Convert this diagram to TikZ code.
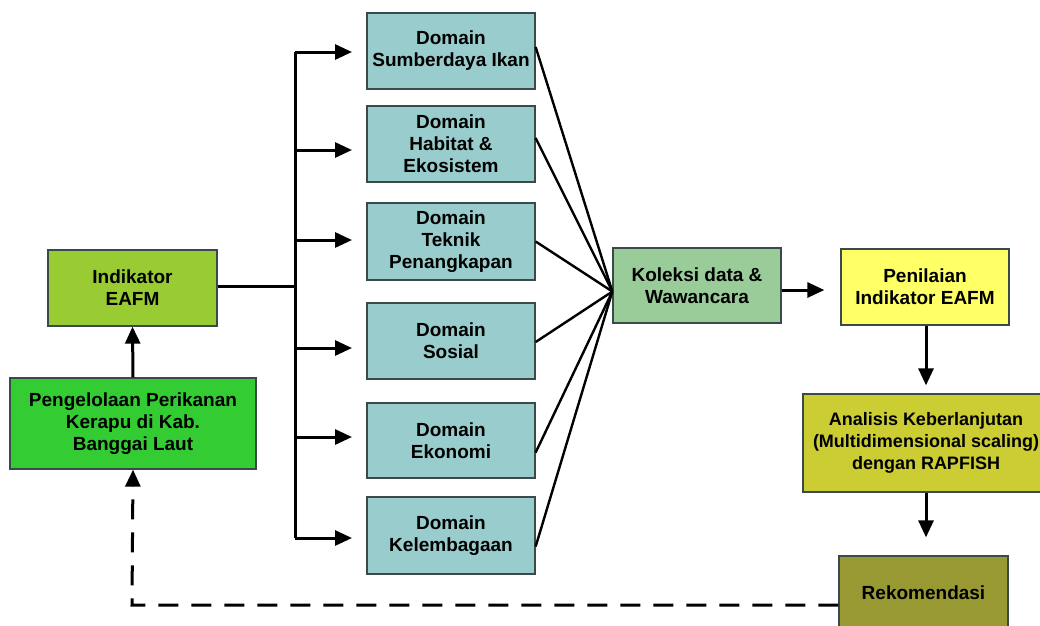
\documentclass[tikz,border=0pt]{standalone}
\usepackage{fontspec}
\setmainfont{Liberation Sans}
\usetikzlibrary{arrows.meta,calc}
\definecolor{cdom}{HTML}{99CCCC}
\definecolor{cind}{HTML}{99CC33}
\definecolor{cpeng}{HTML}{33CC33}
\definecolor{ckol}{HTML}{99CC99}
\definecolor{cpen}{HTML}{FFFF66}
\definecolor{cana}{HTML}{CCCC33}
\definecolor{crek}{HTML}{999933}
\definecolor{cbord}{HTML}{3A4A4A}
\begin{document}
\begin{tikzpicture}[x=1pt,y=-1pt,
  box/.style={draw=cbord,line width=1.3pt,inner sep=0pt,align=center,
    font=\fontsize{19}{22}\selectfont\bfseries},
  dombox/.style={box,fill=cdom,minimum width=168pt,minimum height=76pt},
  arr/.style={line width=3pt,-{Triangle[length=17pt,width=15pt]}},
  plain/.style={line width=3pt},
  fan/.style={line width=2.4pt},
  dsh/.style={line width=3pt,dash pattern=on 20pt off 13pt,-{Triangle[length=17pt,width=15pt]}}]
\useasboundingbox (0,0) rectangle (1040,625);
\fill[white] (0,0) rectangle (1040,625);

\node[box,fill=cind,minimum width=169pt,minimum height=76pt] (ind) at (132.5,288) {Indikator\\EAFM};
\node[box,fill=cpeng,minimum width=246pt,minimum height=91pt] (peng) at (133,423.5) {Pengelolaan Perikanan\\Kerapu di Kab.\\Banggai Laut};

\node[dombox] (d1) at (451,51) {Domain\\Sumberdaya Ikan};
\node[dombox] (d2) at (451,144) {Domain\\Habitat \&\\Ekosistem};
\node[dombox,minimum height=77pt] (d3) at (451,241.5) {Domain\\Teknik\\Penangkapan};
\node[dombox] (d4) at (451,341) {Domain\\Sosial};
\node[dombox,minimum height=75pt] (d5) at (451,440.5) {Domain\\Ekonomi};
\node[dombox,minimum height=77pt] (d6) at (451,535.5) {Domain\\Kelembagaan};

\node[box,fill=ckol,minimum width=168pt,minimum height=75pt] (kol) at (697,285.5) {Koleksi data \&\\Wawancara};
\node[box,fill=cpen,minimum width=168pt,minimum height=76pt] (pen) at (925,287) {Penilaian\\Indikator EAFM};
\node[box,fill=cana,minimum width=246pt,minimum height=98pt,font=\fontsize{18}{22}\selectfont\bfseries] (ana) at (926,443) {Analisis Keberlanjutan\\(Multidimensional scaling)\\dengan RAPFISH};
\node[box,fill=crek,minimum width=169pt,minimum height=74pt] (rek) at (923.5,593) {Rekomendasi};

% trunk
\coordinate (ttop) at (295,52);
\coordinate (tbot) at (295,538);
\coordinate (tmid) at (297,286);
\draw[plain] (ttop) -- (tbot);
\draw[plain] (ind.east |- tmid) -- (tmid);
\draw[arr] (ttop) -- (352,52);
\draw[arr] (295,150) -- (352,150);
\draw[arr] (295,240) -- (352,240);
\draw[arr] (295,348) -- (352,348);
\draw[arr] (295,437) -- (352,437);
\draw[arr] (tbot) -- (352,538);

\draw[arr] (peng.north) -- (ind.south);

% fan into koleksi
\coordinate (kin) at ($(kol.west)+(0,6)$);
\foreach \d/\dy in {d1/-4,d2/-6,d3/0,d4/1,d5/12,d6/11}{
  \draw[fan] ($(\d.east)+(0,\dy)$) -- (kin);
}

\coordinate (ka) at ($(kol.east)+(0,4.5)$);
\draw[arr,shorten >=16pt] (ka) -- (ka -| pen.west);
\coordinate (pa) at (926,0);
\draw[arr,shorten >=8pt] (pa |- pen.south) -- (pa |- ana.north);
\draw[arr,shorten >=18pt] (pa |- ana.south) -- (pa |- rek.north);

\coordinate (dcorner) at (132,605);
\draw[dsh] ($(rek.west)+(0,12)$) -- (dcorner) -- (peng.south);
\end{tikzpicture}
\end{document}
